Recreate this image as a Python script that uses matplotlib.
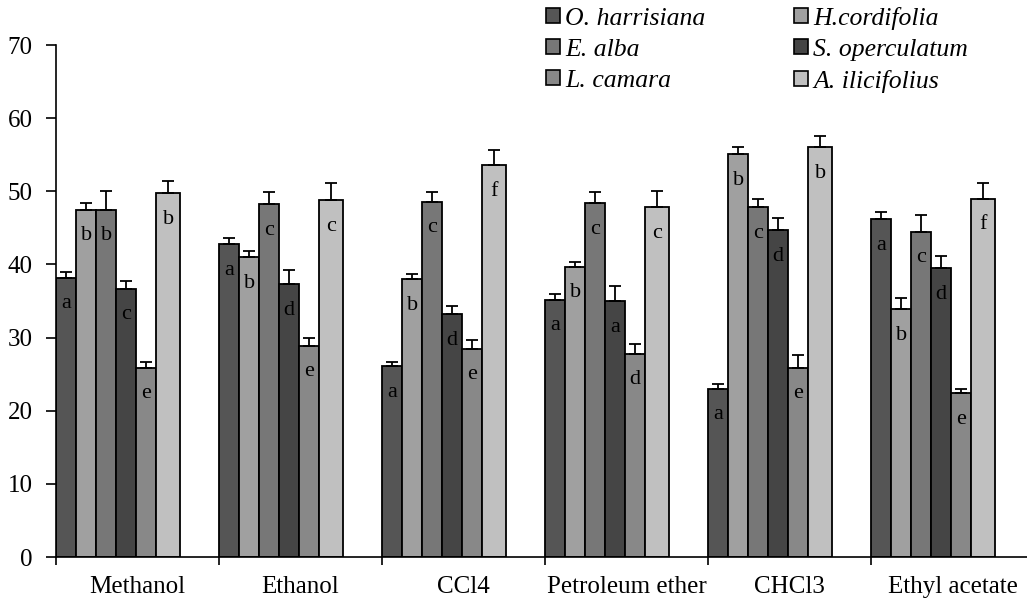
import numpy as np
import matplotlib
matplotlib.use('Agg')
import matplotlib.pyplot as plt
from matplotlib.patches import Patch

plt.rcParams['font.family'] = ['Liberation Serif', 'DejaVu Serif']

###########
# data
solvents = ['Methanol', 'Ethanol', 'CCl4', 'Petroleum ether', 'CHCl3', 'Ethyl acetate']
species = ['O. harrisiana', 'H.cordifolia', 'E. alba', 'S. operculatum', 'L. camara', 'A. ilicifolius']
colors = ['#555555', '#a0a0a0', '#777777', '#454545', '#888888', '#c0c0c0']

o_harrisiana = [38.2, 42.8, 26.1, 35.2, 23.0, 46.2]
h_cordifolia = [47.5, 41.0, 38.0, 39.7, 55.1, 33.9]
e_alba = [47.5, 48.2, 48.6, 48.4, 47.8, 44.5]
s_operculatum = [36.7, 37.3, 33.2, 35.0, 44.7, 39.5]
l_camara = [25.9, 28.9, 28.5, 27.8, 25.9, 22.4]
a_ilicifolius = [49.7, 48.8, 53.6, 47.8, 56.0, 49.0]

o_harrisiana_err = [0.7, 0.8, 0.6, 0.7, 0.7, 0.9]
h_cordifolia_err = [0.9, 0.9, 0.7, 0.7, 0.9, 1.5]
e_alba_err = [2.6, 1.7, 1.3, 1.5, 1.2, 2.2]
s_operculatum_err = [1.1, 2.0, 1.1, 2.1, 1.6, 1.7]
l_camara_err = [0.8, 1.1, 1.1, 1.3, 1.7, 0.6]
a_ilicifolius_err = [1.7, 2.4, 2.0, 2.3, 1.5, 2.2]

o_harrisiana_lbl = ['a', 'a', 'a', 'a', 'a', 'a']
h_cordifolia_lbl = ['b', 'b', 'b', 'b', 'b', 'b']
e_alba_lbl = ['b', 'c', 'c', 'c', 'c', 'c']
s_operculatum_lbl = ['c', 'd', 'd', 'a', 'd', 'd']
l_camara_lbl = ['e', 'e', 'e', 'd', 'e', 'e']
a_ilicifolius_lbl = ['b', 'c', 'f', 'c', 'b', 'f']
###########

values = [o_harrisiana, h_cordifolia, e_alba, s_operculatum, l_camara, a_ilicifolius]
errors = [o_harrisiana_err, h_cordifolia_err, e_alba_err, s_operculatum_err, l_camara_err, a_ilicifolius_err]
letters = [o_harrisiana_lbl, h_cordifolia_lbl, e_alba_lbl, s_operculatum_lbl, l_camara_lbl, a_ilicifolius_lbl]

fig = plt.figure(figsize=(10.27, 6.06), dpi=100)
ax = fig.add_axes([56/1027, 49/606, 978/1027, 512/606])

bw = 0.123
widths = [bw, bw, bw, bw, bw, 0.145]
base = np.arange(len(solvents))

for j in range(len(species)):
    x = base + j*bw
    ax.bar(x, values[j], width=widths[j], align='edge', color=colors[j],
           edgecolor='black', linewidth=1.3, zorder=2)
    xc = x + widths[j]/2
    ax.errorbar(xc, values[j], yerr=[np.zeros(len(solvents)), errors[j]], fmt='none',
                ecolor='black', elinewidth=1.3, capsize=4, capthick=1.3, zorder=3)
    for k in range(len(solvents)):
        ax.annotate(letters[j][k], (xc[k], values[j][k]), xytext=(0, -22),
                    textcoords='offset points', ha='center', va='baseline', fontsize=16)

ax.set_xlim(0, len(solvents))
ax.set_ylim(0, 70)
ax.set_yticks(np.arange(0, 71, 10))
ax.set_xticks(base)
ax.set_xticklabels([])
ax.set_xticks(base + 0.5, minor=True)
ax.set_xticklabels(solvents, minor=True)
ax.tick_params(axis='x', which='minor', length=0, pad=14, labelsize=18)
ax.tick_params(axis='x', which='major', length=6, width=1.2, direction='out')
ax.tick_params(axis='y', length=7, width=1.2, direction='out', pad=10, labelsize=18)
ax.spines['top'].set_visible(False)
ax.spines['right'].set_visible(False)
ax.spines['left'].set_linewidth(1.2)
ax.spines['bottom'].set_linewidth(1.2)

# legend: two columns, filled column-wise
order = [0, 2, 4, 1, 3, 5]
handles = [Patch(facecolor=colors[i], edgecolor='black', linewidth=1.2) for i in order]
labels = [species[i] for i in order]
fig.legend(handles, labels, loc='upper left', bbox_to_anchor=(543/1027, 1 - 4/606), ncol=2,
           frameon=False, prop={'family': 'Liberation Serif', 'style': 'italic', 'size': 18.5},
           handlelength=0.55, handleheight=0.55, handletextpad=0.2, labelspacing=0.35,
           columnspacing=3.45, borderpad=0.1, borderaxespad=0)

fig.savefig('out.png', dpi=100)
